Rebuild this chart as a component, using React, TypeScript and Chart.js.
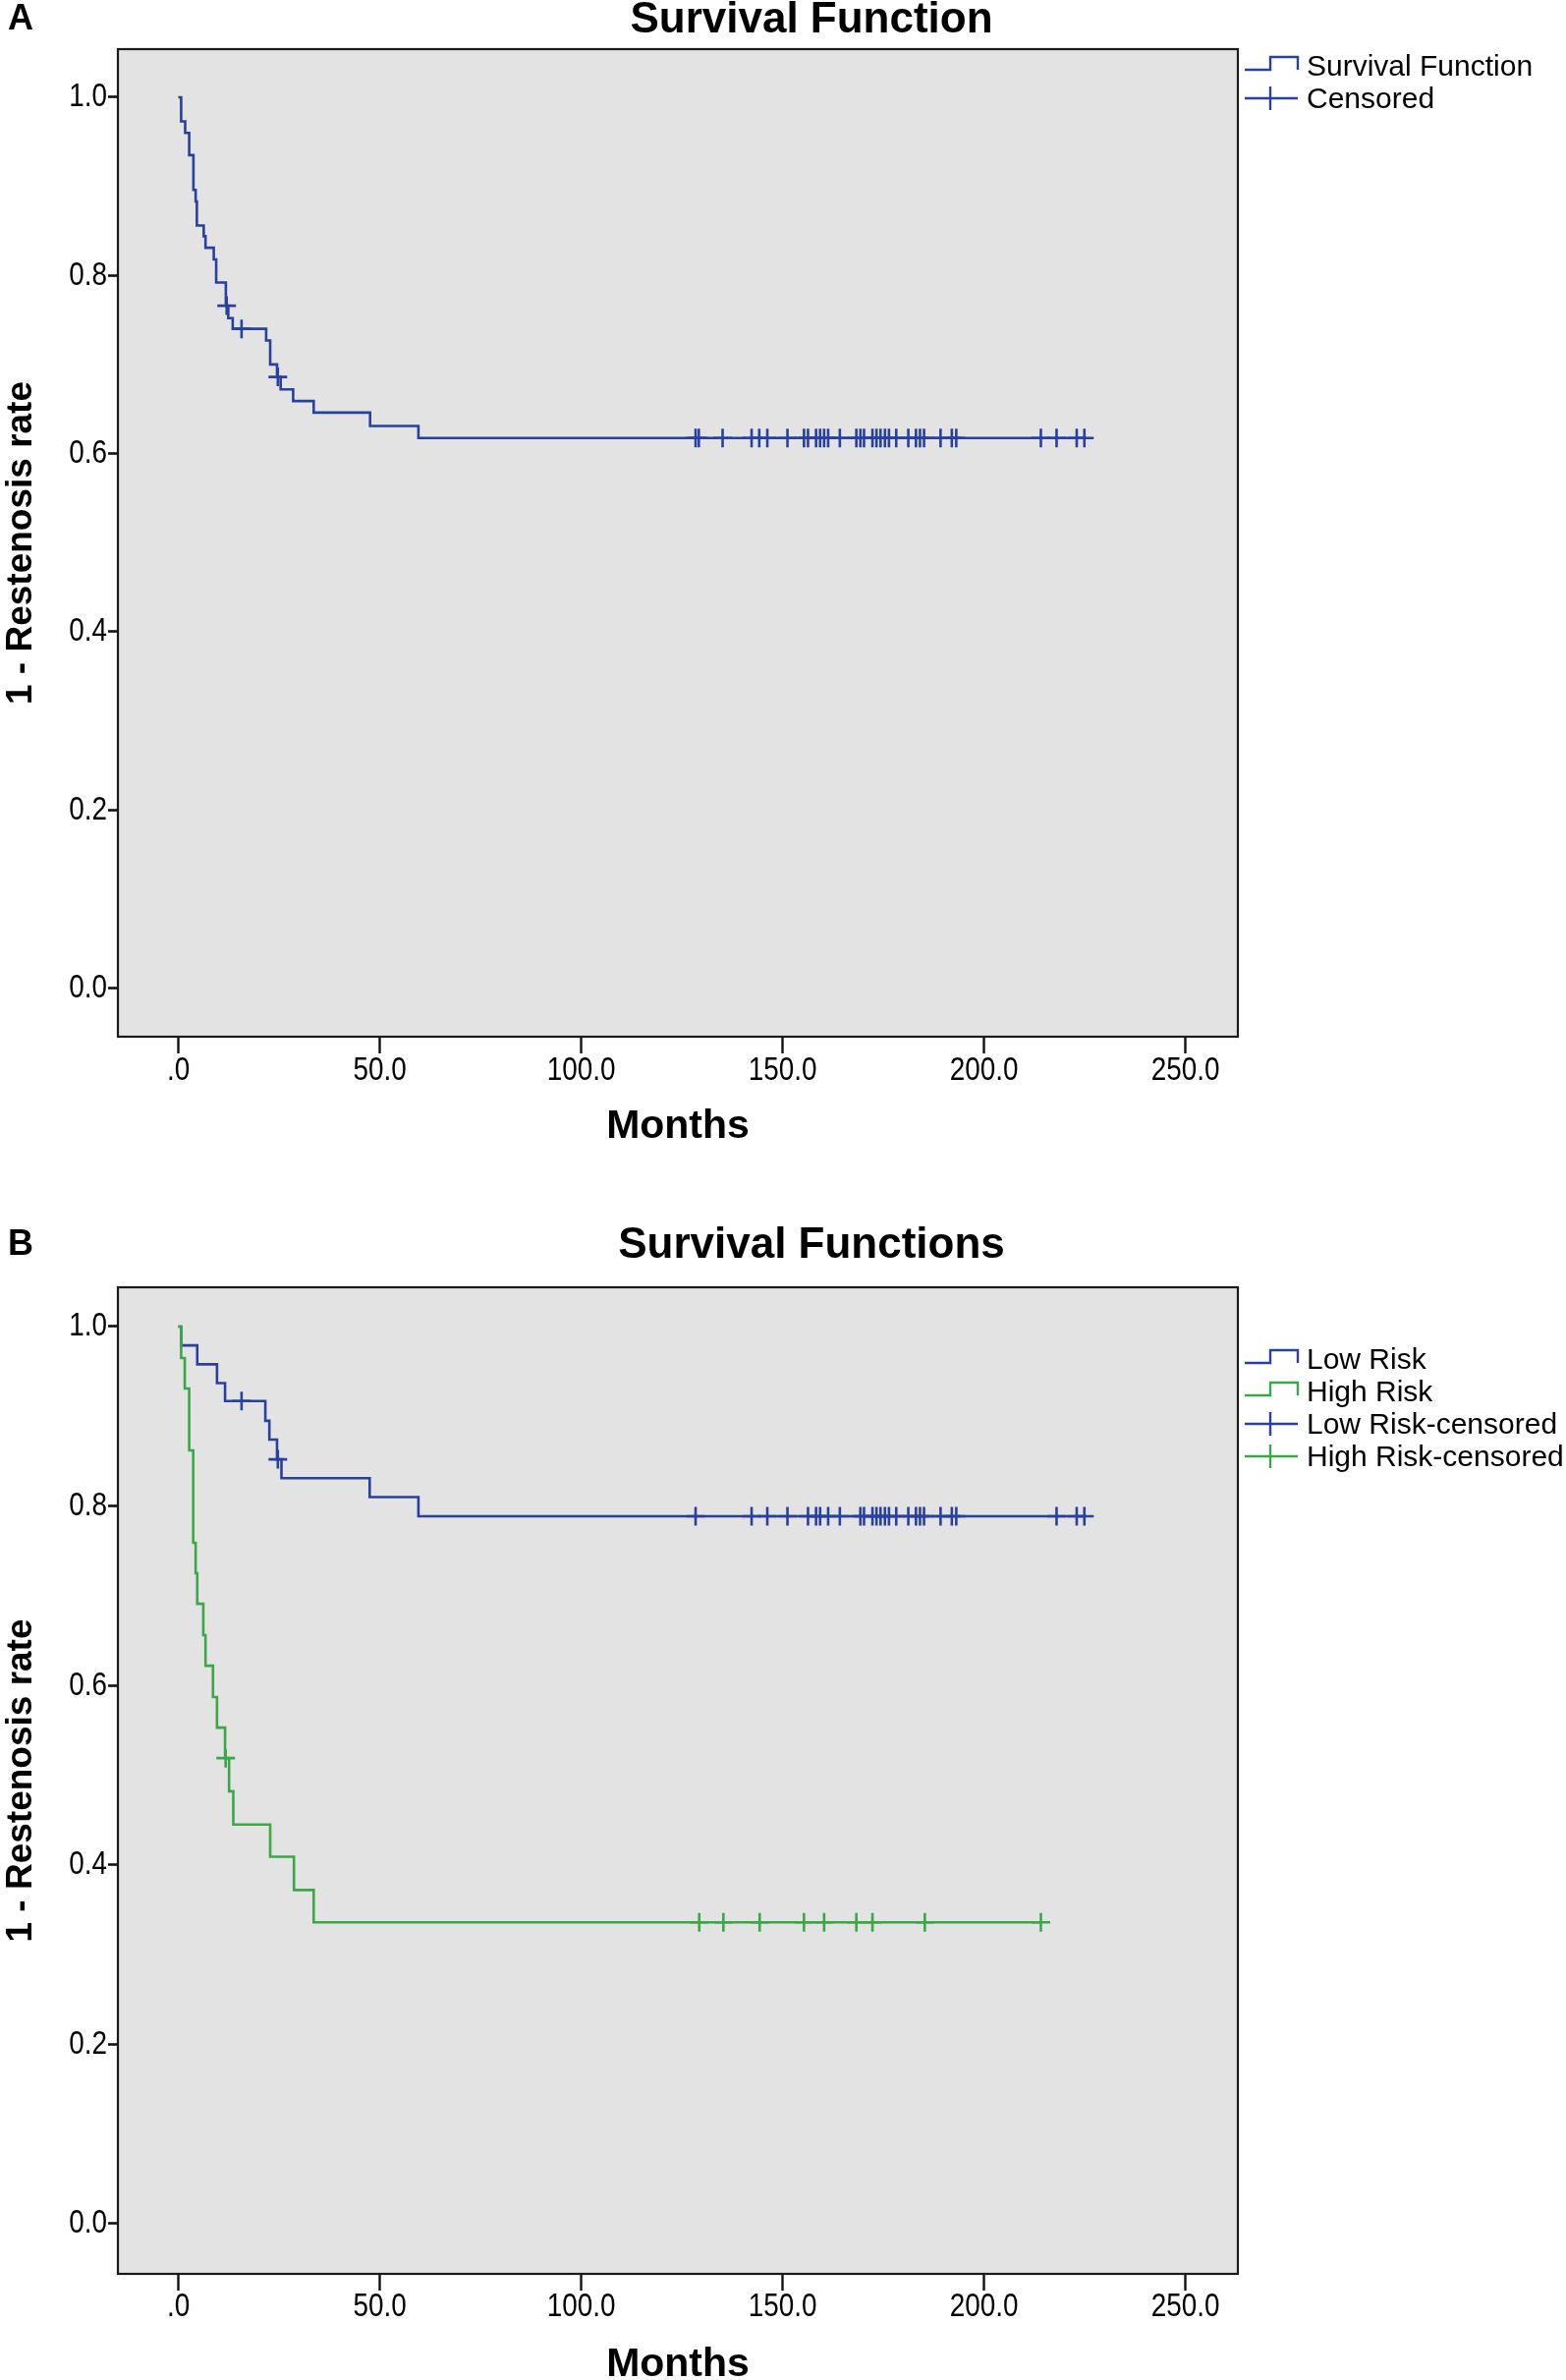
import React, { useEffect, useRef } from 'react';
import { Chart, registerables } from 'chart.js';

Chart.register(...registerables);

// ---------- data ----------
const xTickValues = [0, 50, 100, 150, 200, 250];
const xTickLabels = ['.0', '50.0', '100.0', '150.0', '200.0', '250.0'];
const yTickValues = [0, 0.2, 0.4, 0.6, 0.8, 1.0];
const yTickLabels = ['0.0', '0.2', '0.4', '0.6', '0.8', '1.0'];

// Panel A: overall survival function
const timesA = [0, 0.7, 1.7, 2.7, 3.75, 4.3, 4.6, 6.3, 6.75, 8.8, 9.4, 11.8, 12.4, 13.5, 21.8, 22.8, 24.5, 25.4, 28.5, 33.6, 47.6, 59.6, 224.9];
const survA = [1.0, 0.973, 0.96, 0.935, 0.896, 0.883, 0.856, 0.844, 0.831, 0.818, 0.792, 0.766, 0.752, 0.74, 0.727, 0.7, 0.686, 0.672, 0.659, 0.646, 0.631, 0.6175, 0.6175];
const censoredA = [12.0, 15.7, 24.7, 128.4, 129.2, 135.1, 142.3, 144.2, 146.2, 151.2, 155.3, 156.3, 158.3, 159.3, 160.3, 161.3, 164.2, 168.3, 169.3, 170.2, 172.3, 173.3, 174.3, 175.4, 176.4, 178.2, 181.2, 183.1, 184.1, 185.1, 189.2, 192.0, 193.1, 214.1, 218.0, 223.0, 224.9];

// Panel B: Low Risk
const timesLow = [0, 0.7, 4.7, 9.6, 11.6, 21.6, 22.6, 24.5, 25.6, 47.5, 59.6, 224.9];
const survLow = [1.0, 0.979, 0.958, 0.937, 0.917, 0.895, 0.874, 0.852, 0.831, 0.81, 0.7886, 0.7886];
const censoredLow = [15.7, 24.7, 128.4, 142.3, 146.2, 151.2, 156.3, 158.3, 159.3, 161.3, 164.2, 169.3, 170.2, 172.3, 173.3, 174.3, 175.4, 176.4, 178.2, 181.2, 183.1, 184.1, 185.1, 189.2, 192.0, 193.1, 218.0, 223.0, 224.9];

// Panel B: High Risk
const timesHigh = [0, 0.7, 1.6, 2.7, 3.7, 4.3, 4.7, 6.2, 6.75, 8.6, 9.6, 11.6, 12.6, 13.65, 22.8, 28.7, 33.6, 214.1];
const survHigh = [1.0, 0.965, 0.931, 0.862, 0.759, 0.725, 0.691, 0.656, 0.622, 0.587, 0.553, 0.519, 0.482, 0.445, 0.409, 0.372, 0.336, 0.336];
const censoredHigh = [11.75, 129.3, 135.3, 144.3, 155.3, 160.3, 168.3, 172.3, 185.3, 214.1];

// ---------- style ----------
const BLUE = '#2840a0';
const GREEN = '#3aa846';
const FONT = "'Liberation Sans', Arial, Helvetica, sans-serif";
const PLOT_BG = '#e3e3e3';
const CANVAS_W = 1594;
const BOX_LEFT = 120;
const BOX_RIGHT = 1260;
const TICK_FONT_SIZE = 34;
const TICK_SQUEEZE = 0.82;

function stepAt(times: number[], surv: number[], t: number) {
  let v = surv[0];
  for (let i = 0; i < times.length; i++) if (times[i] <= t) v = surv[i];
  return v;
}

type Series = { times: number[]; surv: number[]; censored: number[]; color: string };
type LegendRow = { kind: 'step' | 'cross'; color: string; label: string; y: number };
type PanelCfg = {
  top: number; height: number; boxTop: number; boxBottom: number;
  yMin: number; yMax: number; letter: string; letterY: number;
  title: string; titleY: number; monthsY: number; xLabelOffset: number;
  legend: LegendRow[]; series: Series[];
};

const panelA: PanelCfg = {
  top: 0, height: 1230, boxTop: 50, boxBottom: 1055,
  yMin: -0.0546, yMax: 1.054,
  letter: 'A', letterY: 20, title: 'Survival Function', titleY: 21, monthsY: 1147, xLabelOffset: 35,
  legend: [
    { kind: 'step', color: BLUE, label: 'Survival Function', y: 69 },
    { kind: 'cross', color: BLUE, label: 'Censored', y: 102 },
  ],
  series: [{ times: timesA, surv: survA, censored: censoredA, color: BLUE }],
};

const panelB: PanelCfg = {
  top: 1230, height: 1192, boxTop: 80, boxBottom: 1084,
  yMin: -0.0559, yMax: 1.0438,
  letter: 'B', letterY: 37, title: 'Survival Functions', titleY: 38, monthsY: 1177, xLabelOffset: 34,
  legend: [
    { kind: 'step', color: BLUE, label: 'Low Risk', y: 155 },
    { kind: 'step', color: GREEN, label: 'High Risk', y: 188 },
    { kind: 'cross', color: BLUE, label: 'Low Risk-censored', y: 221 },
    { kind: 'cross', color: GREEN, label: 'High Risk-censored', y: 254 },
  ],
  series: [
    { times: timesHigh, surv: survHigh, censored: censoredHigh, color: GREEN },
    { times: timesLow, surv: survLow, censored: censoredLow, color: BLUE },
  ],
};

function buildConfig(p: PanelCfg): any {
  const censSets = p.series.map((s) => ({
    data: s.censored.map((t) => ({ x: t, y: stepAt(s.times, s.surv, t) })),
    showLine: false,
    pointStyle: 'cross',
    pointRadius: 9.5,
    pointBorderWidth: 2.6,
    pointBorderColor: s.color,
    pointBackgroundColor: s.color,
    borderColor: s.color,
  }));
  const lineSets = p.series.map((s) => ({
    data: s.times.map((t, i) => ({ x: t, y: s.surv[i] })),
    stepped: 'before',
    borderColor: s.color,
    borderWidth: 2.6,
    pointRadius: 0,
    fill: false,
  }));

  const decor = {
    id: 'decor',
    beforeDraw(chart: any) {
      const { ctx, chartArea: a } = chart;
      ctx.save();
      ctx.fillStyle = PLOT_BG;
      ctx.fillRect(a.left, a.top, a.right - a.left, a.bottom - a.top);
      ctx.restore();
    },
    afterDraw(chart: any) {
      const { ctx, chartArea: a } = chart;
      const xs = chart.scales.x;
      const ys = chart.scales.y;
      ctx.save();
      // box
      ctx.strokeStyle = '#1a1a1a';
      ctx.lineWidth = 2.2;
      ctx.strokeRect(a.left, a.top, a.right - a.left, a.bottom - a.top);

      // tick labels (condensed, positioned by the chart scales)
      ctx.fillStyle = '#000';
      ctx.textBaseline = 'middle';
      ctx.font = `${TICK_FONT_SIZE}px ${FONT}`;
      xTickValues.forEach((v, i) => {
        const px = xs.getPixelForValue(v);
        ctx.save();
        ctx.translate(px, a.bottom + p.xLabelOffset);
        ctx.scale(TICK_SQUEEZE, 1);
        ctx.textAlign = 'center';
        ctx.fillText(xTickLabels[i], 0, 0);
        ctx.restore();
      });
      yTickValues.forEach((v, i) => {
        const py = ys.getPixelForValue(v);
        ctx.save();
        ctx.translate(a.left - 11, py);
        ctx.scale(TICK_SQUEEZE, 1);
        ctx.textAlign = 'right';
        ctx.fillText(yTickLabels[i], 0, 0);
        ctx.restore();
      });

      // texts
      ctx.textAlign = 'center';
      ctx.font = `bold 36px ${FONT}`;
      ctx.fillText(p.letter, 21, p.letterY);
      ctx.font = `bold 44px ${FONT}`;
      ctx.fillText(p.title, 826, p.titleY);
      ctx.font = `bold 41px ${FONT}`;
      ctx.fillText('Months', (a.left + a.right) / 2, p.monthsY);
      ctx.save();
      ctx.translate(22, (a.top + a.bottom) / 2);
      ctx.rotate(-Math.PI / 2);
      ctx.font = `bold 37px ${FONT}`;
      ctx.fillText('1 - Restenosis rate', 0, 0);
      ctx.restore();

      // legend
      const x0 = 1267, xm = 1293, x1 = 1321;
      p.legend.forEach((r) => {
        ctx.strokeStyle = r.color;
        ctx.lineWidth = 2.4;
        ctx.beginPath();
        if (r.kind === 'step') {
          ctx.moveTo(x0, r.y + 2);
          ctx.lineTo(xm, r.y + 2);
          ctx.lineTo(xm, r.y - 11);
          ctx.lineTo(x1, r.y - 11);
          ctx.lineTo(x1, r.y + 2);
        } else {
          ctx.moveTo(x0, r.y - 2);
          ctx.lineTo(x1, r.y - 2);
          ctx.moveTo(xm, r.y - 14);
          ctx.lineTo(xm, r.y + 10);
        }
        ctx.stroke();
        ctx.fillStyle = '#000';
        ctx.font = `30px ${FONT}`;
        ctx.textAlign = 'left';
        ctx.fillText(r.label, 1330, r.y);
      });
      ctx.restore();
    },
  };

  return {
    type: 'line',
    data: { datasets: [...censSets, ...lineSets] },
    plugins: [decor],
    options: {
      animation: false,
      responsive: false,
      events: [],
      layout: { padding: { left: 0, top: p.boxTop, right: CANVAS_W - BOX_RIGHT, bottom: 0 } },
      plugins: { legend: { display: false }, title: { display: false }, tooltip: { enabled: false } },
      scales: {
        x: {
          type: 'linear',
          min: -15,
          max: 263,
          afterFit(scale: any) { scale.height = p.height - p.boxBottom; },
          afterBuildTicks(scale: any) { scale.ticks = xTickValues.map((v) => ({ value: v })); },
          grid: { drawOnChartArea: false, drawTicks: true, tickLength: 17, tickWidth: 2.4, tickColor: '#111' },
          border: { display: false },
          ticks: { display: false, autoSkip: false, maxRotation: 0 },
        },
        y: {
          type: 'linear',
          min: p.yMin,
          max: p.yMax,
          afterFit(scale: any) { scale.width = BOX_LEFT; },
          afterBuildTicks(scale: any) { scale.ticks = yTickValues.map((v) => ({ value: v })); },
          grid: { drawOnChartArea: false, drawTicks: true, tickLength: 10, tickWidth: 2.6, tickColor: '#111' },
          border: { display: false },
          ticks: { display: false, autoSkip: false },
        },
      },
    },
  };
}

function Panel({ cfg }: { cfg: PanelCfg }) {
  const ref = useRef<HTMLCanvasElement | null>(null);
  useEffect(() => {
    if (!ref.current) return;
    const chart = new Chart(ref.current, buildConfig(cfg));
    return () => chart.destroy();
  }, [cfg]);
  return (
    <canvas
      ref={ref}
      width={CANVAS_W}
      height={cfg.height}
      style={{ position: 'absolute', left: 0, top: cfg.top, width: CANVAS_W, height: cfg.height, display: 'block' }}
    />
  );
}

export default function App() {
  return (
    <div style={{ position: 'absolute', left: 0, top: 0, width: CANVAS_W, height: 2422, background: '#fff', overflow: 'hidden' }}>
      <Panel cfg={panelA} />
      <Panel cfg={panelB} />
    </div>
  );
}
